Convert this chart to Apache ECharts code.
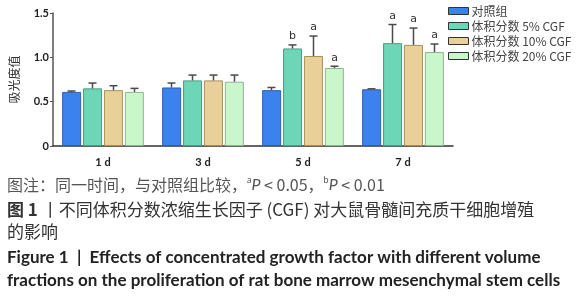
<!DOCTYPE html>
<html>
<head>
<meta charset="utf-8">
<script src="https://cdn.jsdelivr.net/npm/echarts@6/dist/echarts.min.js"></script>
<style>
  html, body { margin: 0; padding: 0; background: #fff; }
  #chart { width: 583px; height: 300px; }
</style>
</head>
<body>
<div id="chart"></div>
<script>
// 时间点
const categories = ['1 d', '3 d', '5 d', '7 d'];
const seriesNames = ['对照组', '体积分数 5% CGF', '体积分数 10% CGF', '体积分数 20% CGF'];

// 吸光度均值
const control = [0.61, 0.66, 0.63, 0.64];
const cgf5 = [0.65, 0.74, 1.10, 1.16];
const cgf10 = [0.63, 0.74, 1.015, 1.14];
const cgf20 = [0.61, 0.725, 0.88, 1.06];

// 标准差
const controlSd = [0.01, 0.05, 0.03, 0.005];
const cgf5Sd = [0.06, 0.06, 0.04, 0.21];
const cgf10Sd = [0.05, 0.06, 0.225, 0.19];
const cgf20Sd = [0.04, 0.075, 0.02, 0.09];

// 显著性标记
const controlSig = ['', '', '', ''];
const cgf5Sig = ['', '', 'b', 'a'];
const cgf10Sig = ['', '', 'a', 'a'];
const cgf20Sig = ['', '', 'a', 'a'];

const yTicks = [0, 0.5, 1.0, 1.5];

const means = [control, cgf5, cgf10, cgf20];
const sds = [controlSd, cgf5Sd, cgf10Sd, cgf20Sd];
const sigs = [controlSig, cgf5Sig, cgf10Sig, cgf20Sig];
const fills = ['#3b82ee', '#6dd6b6', '#e9cf98', '#c9f6ca'];
const borders = ['#2c5fae', '#4b9c84', '#a8905e', '#8fb492'];

const BAR_W = 19;
const BAR_GAP = 2;

const chart = echarts.init(document.getElementById('chart'));

const barSeries = means.map((vals, k) => ({
  name: seriesNames[k],
  type: 'bar',
  data: vals,
  barWidth: BAR_W,
  barGap: '10%',
  itemStyle: { color: fills[k], borderColor: borders[k], borderWidth: 1 },
  z: 2
}));

const errSeries = means.map((vals, k) => ({
  type: 'custom',
  silent: true,
  z: 3,
  data: vals.map((v, i) => [i, v, v + sds[k][i], sigs[k][i]]),
  renderItem: function (params, api) {
    const off = (k - 1.5) * (BAR_W + BAR_GAP);
    const base = api.coord([api.value(0), api.value(1)]);
    const top = api.coord([api.value(0), api.value(2)]);
    const x = base[0] + off;
    const style = { stroke: '#4a4a4a', lineWidth: 1.5 };
    const children = [
      { type: 'line', shape: { x1: x, y1: base[1], x2: x, y2: top[1] }, style: style },
      { type: 'line', shape: { x1: x - 4, y1: top[1], x2: x + 4, y2: top[1] }, style: style }
    ];
    const sig = sigs[k][params.dataIndex];
    if (sig) {
      children.push({
        type: 'text',
        style: {
          text: sig, x: x, y: top[1] - 3,
          align: 'center', verticalAlign: 'bottom',
          font: '11px "DejaVu Sans", sans-serif', fill: '#333'
        }
      });
    }
    return { type: 'group', children: children };
  }
}));

const option = {
  animation: false,
  backgroundColor: '#fff',
  grid: { left: 44, right: 130, top: 13, bottom: 154 },
  legend: {
    data: seriesNames,
    orient: 'vertical',
    left: 443,
    top: 0,
    itemWidth: 20,
    itemHeight: 7,
    itemGap: 3,
    icon: 'rect',
    itemStyle: { borderColor: '#333', borderWidth: 1 },
    textStyle: { fontSize: 12, color: '#444', fontFamily: '"Noto Sans CJK SC", sans-serif', padding: [0, 0, 0, -2] }
  },
  xAxis: {
    type: 'category',
    data: categories,
    axisLine: { lineStyle: { color: '#333', width: 1.5 } },
    axisTick: { alignWithLabel: true, length: 3, lineStyle: { color: '#333' } },
    axisLabel: { fontSize: 11, color: '#222', margin: 11, fontWeight: 'bold', fontFamily: 'Lato, sans-serif' }
  },
  yAxis: {
    type: 'value',
    min: yTicks[0],
    max: yTicks[yTicks.length - 1],
    interval: 0.5,
    name: '吸光度值',
    nameLocation: 'middle',
    nameGap: 33,
    nameTextStyle: { fontSize: 12, color: '#333', fontFamily: '"Noto Sans CJK SC", sans-serif' },
    splitLine: { show: false },
    axisLine: { show: true, lineStyle: { color: '#555', width: 1.5 } },
    axisTick: { show: true, length: 3, lineStyle: { color: '#555' } },
    axisLabel: {
      fontSize: 11, color: '#222', margin: 4, fontWeight: 'bold', fontFamily: 'Lato, sans-serif',
      formatter: v => (v === 0 ? '0' : v.toFixed(1))
    }
  },
  series: barSeries.concat(errSeries),
  graphic: [
    {
      type: 'text', left: 7, top: 176,
      style: {
        text: '图注：同一时间，与对照组比较，{sup|a}{it|P} < 0.05，{sup|b}{it|P} < 0.01',
        font: '16px "Noto Sans CJK SC", sans-serif', fill: '#555',
        rich: {
          sup: { fontSize: 9, verticalAlign: 'top', padding: [0, 0, 8, 0], fill: '#555', fontFamily: 'Lato, sans-serif' },
          it: { fontSize: 16, fontStyle: 'italic', fill: '#555', fontFamily: 'Lato, sans-serif' }
        }
      }
    },
    {
      type: 'text', left: 7, top: 201,
      style: {
        text: '{b|图 1} 丨不同体积分数浓缩生长因子 (CGF) 对大鼠骨髓间充质干细胞增殖',
        font: '17px "Noto Sans CJK SC", sans-serif', fill: '#333',
        rich: { b: { fontSize: 17, fontWeight: 'bold', fill: '#333', fontFamily: '"Noto Sans CJK SC", sans-serif' } }
      }
    },
    {
      type: 'text', left: 7, top: 223,
      style: { text: '的影响', font: '17px "Noto Sans CJK SC", sans-serif', fill: '#333' }
    },
    {
      type: 'text', left: 7, top: 249,
      style: { text: 'Figure 1  |  Effects of concentrated growth factor with different volume', font: 'bold 17px Lato, sans-serif', fill: '#222' }
    },
    {
      type: 'text', left: 7, top: 272,
      style: { text: 'fractions on the proliferation of rat bone marrow mesenchymal stem cells', font: 'bold 17px Lato, sans-serif', fill: '#222' }
    }
  ]
};

chart.setOption(option);
</script>
</body>
</html>
